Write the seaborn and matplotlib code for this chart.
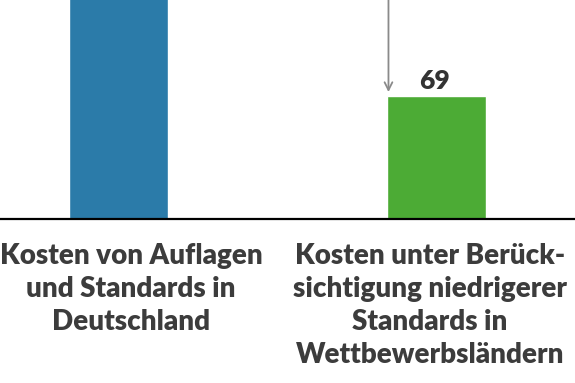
import numpy as np
import pandas as pd
import matplotlib
matplotlib.use("Agg")
import matplotlib.pyplot as plt
import seaborn as sns

# data (first bar is cut off at the top, value estimated)
categories = ["Deutschland", "Wettbewerbslaender"]
values = [150, 69]
labels = ["Kosten von Auflagen\nund Standards in\nDeutschland",
          "Kosten unter Berück-\nsichtigung niedrigerer\nStandards in\nWettbewerbsländern"]
colors = ["#2b7ba9", "#4cab35"]

sns.set_style("white")
plt.rcParams['font.family'] = ['Lato', 'DejaVu Sans']

df = pd.DataFrame({'kategorie': categories, 'wert': values})

fig = plt.figure(figsize=(5.75, 3.83), dpi=100)
ax = fig.add_axes([0, 1 - 219 / 383, 1, 219 / 383])
sns.barplot(x='kategorie', y='wert', data=df, hue='kategorie', palette=colors,
            legend=False, width=0.311, saturation=1, ax=ax)

ax.set_xlim(-0.373, 1.435)
ax.set_ylim(0, 123)
for s in ['top', 'left', 'right']:
    ax.spines[s].set_visible(False)
ax.spines['bottom'].set_color('black')
ax.spines['bottom'].set_linewidth(1.6)
ax.set_xticks([])
ax.set_yticks([])
ax.set_xlabel('')
ax.set_ylabel('')

# value label on the green bar
ax.text(1 - 0.008, values[1] + 2.0, str(values[1]), ha='center', va='bottom',
        fontsize=19, fontweight='heavy', color='#333333')

# arrow from the top down to the green bar
x_arrow = 1 - 0.311 / 2 + 0.004
ax.annotate('', xy=(x_arrow, values[1] + 2.3), xytext=(x_arrow, 123),
            arrowprops=dict(arrowstyle='->', color='#8a8a8a', lw=1.3,
                            mutation_scale=14, shrinkA=0, shrinkB=0))

# category labels under the bars
fig.text(131 / 575, 1 - 243 / 383, labels[0], ha='center', va='top',
         fontsize=20, fontweight='heavy', color='#3c3c3c', linespacing=1.34)
fig.text(430 / 575, 1 - 243 / 383, labels[1], ha='center', va='top',
         fontsize=20, fontweight='heavy', color='#3c3c3c', linespacing=1.34)

fig.savefig('out.png', dpi=100)
